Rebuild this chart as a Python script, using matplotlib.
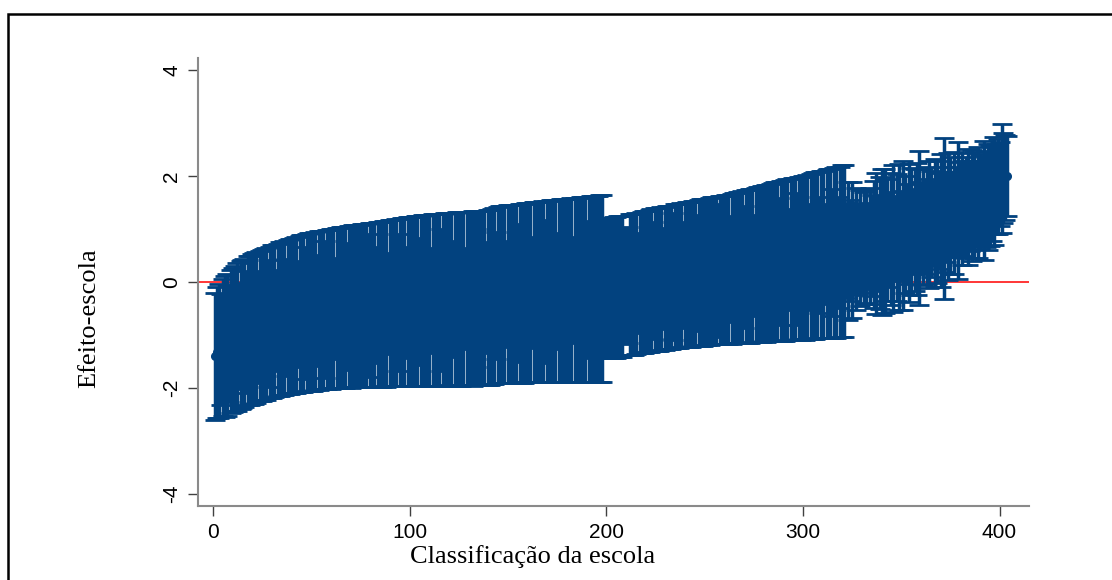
import numpy as np
import matplotlib
matplotlib.use("Agg")
import matplotlib.pyplot as plt
from matplotlib.patches import Rectangle

plt.rcParams['axes.unicode_minus'] = False

# school effect estimates, ordered by rank (schools 1..404)
est = [
    -1.40, -1.33, -1.30, -1.27, -1.24, -1.22, -1.19, -1.16, -1.13, -1.10, -1.07, -1.04, -1.02, -1.00, -0.98, -0.96, -0.94, -0.92, -0.91, -0.89,
    -0.88, -0.86, -0.85, -0.83, -0.82, -0.80, -0.79, -0.78, -0.76, -0.75, -0.74, -0.73, -0.72, -0.70, -0.69, -0.68, -0.67, -0.66, -0.65, -0.64,
    -0.63, -0.62, -0.61, -0.61, -0.60, -0.59, -0.58, -0.58, -0.57, -0.56, -0.56, -0.55, -0.54, -0.54, -0.53, -0.53, -0.52, -0.52, -0.51, -0.51,
    -0.50, -0.50, -0.49, -0.49, -0.48, -0.48, -0.48, -0.47, -0.47, -0.47, -0.46, -0.46, -0.46, -0.45, -0.45, -0.45, -0.44, -0.44, -0.44, -0.44,
    -0.43, -0.43, -0.43, -0.42, -0.42, -0.42, -0.41, -0.41, -0.41, -0.40, -0.40, -0.40, -0.39, -0.39, -0.39, -0.38, -0.38, -0.38, -0.37, -0.37,
    -0.37, -0.37, -0.36, -0.36, -0.36, -0.36, -0.35, -0.35, -0.35, -0.35, -0.35, -0.34, -0.34, -0.34, -0.34, -0.34, -0.33, -0.33, -0.33, -0.33,
    -0.33, -0.32, -0.32, -0.32, -0.32, -0.32, -0.31, -0.31, -0.31, -0.31, -0.31, -0.31, -0.30, -0.30, -0.30, -0.30, -0.30, -0.30, -0.29, -0.29,
    -0.29, -0.28, -0.27, -0.26, -0.25, -0.24, -0.24, -0.23, -0.23, -0.23, -0.22, -0.22, -0.22, -0.22, -0.21, -0.21, -0.21, -0.21, -0.20, -0.20,
    -0.20, -0.20, -0.19, -0.19, -0.19, -0.19, -0.19, -0.18, -0.18, -0.18, -0.18, -0.17, -0.17, -0.17, -0.17, -0.17, -0.16, -0.16, -0.16, -0.16,
    -0.16, -0.15, -0.15, -0.15, -0.15, -0.15, -0.14, -0.14, -0.14, -0.14, -0.14, -0.13, -0.13, -0.13, -0.13, -0.13, -0.12, -0.12, -0.12, -0.12,
    -0.12, -0.11, -0.11, -0.10, -0.10, -0.09, -0.09, -0.08, -0.08, -0.07, -0.06, -0.05, -0.05, -0.04, -0.03, -0.02, -0.02, -0.01, 0.00, 0.01,
    0.01, 0.02, 0.03, 0.03, 0.04, 0.05, 0.05, 0.06, 0.07, 0.07, 0.08, 0.09, 0.09, 0.10, 0.11, 0.11, 0.12, 0.13, 0.13, 0.14,
    0.14, 0.15, 0.15, 0.16, 0.16, 0.17, 0.17, 0.18, 0.18, 0.19, 0.19, 0.20, 0.20, 0.21, 0.21, 0.21, 0.22, 0.22, 0.23, 0.23,
    0.24, 0.24, 0.25, 0.25, 0.26, 0.26, 0.27, 0.27, 0.28, 0.28, 0.29, 0.29, 0.30, 0.31, 0.31, 0.32, 0.33, 0.33, 0.34, 0.35,
    0.35, 0.36, 0.36, 0.37, 0.38, 0.38, 0.39, 0.39, 0.40, 0.40, 0.41, 0.42, 0.42, 0.43, 0.43, 0.44, 0.44, 0.45, 0.45, 0.46,
    0.46, 0.47, 0.48, 0.48, 0.49, 0.50, 0.51, 0.51, 0.52, 0.52, 0.53, 0.53, 0.54, 0.54, 0.55, 0.55, 0.56, 0.56, 0.57, 0.58,
    0.58, 0.59, 0.59, 0.60, 0.60, 0.61, 0.62, 0.63, 0.64, 0.65, 0.65, 0.66, 0.67, 0.68, 0.69, 0.70, 0.72, 0.73, 0.74, 0.75,
    0.77, 0.78, 0.79, 0.80, 0.81, 0.82, 0.83, 0.84, 0.85, 0.87, 0.88, 0.90, 0.91, 0.93, 0.95, 0.96, 0.98, 1.00, 1.02, 1.03,
    1.04, 1.05, 1.07, 1.08, 1.09, 1.10, 1.12, 1.13, 1.15, 1.16, 1.18, 1.20, 1.22, 1.24, 1.26, 1.28, 1.30, 1.32, 1.35, 1.37,
    1.38, 1.39, 1.41, 1.42, 1.43, 1.45, 1.46, 1.48, 1.50, 1.52, 1.53, 1.54, 1.57, 1.60, 1.63, 1.67, 1.72, 1.76, 1.80, 1.85,
    1.95, 1.97, 1.98, 2.00,
]

# half-width of each confidence interval
half = [
    1.20, 1.24, 1.27, 1.05, 1.30, 1.33, 1.34, 1.10, 1.35, 1.36, 1.37, 1.39, 1.00, 1.39, 1.40, 1.40, 1.15, 1.41, 1.41, 1.41,
    1.42, 1.42, 1.05, 1.42, 1.42, 1.43, 1.43, 1.20, 1.43, 1.44, 1.44, 0.95, 1.44, 1.45, 1.45, 1.45, 1.10, 1.46, 1.46, 1.46,
    1.47, 1.47, 1.00, 1.47, 1.48, 1.48, 1.25, 1.48, 1.49, 1.49, 1.49, 1.49, 1.05, 1.50, 1.50, 1.50, 1.30, 1.50, 1.50, 1.51,
    1.51, 0.95, 1.51, 1.51, 1.52, 1.52, 1.52, 1.20, 1.52, 1.53, 1.53, 1.53, 1.53, 1.00, 1.53, 1.54, 1.54, 1.54, 1.35, 1.55,
    1.55, 1.55, 1.10, 1.56, 1.56, 1.56, 1.56, 1.57, 0.95, 1.57, 1.57, 1.57, 1.58, 1.30, 1.58, 1.58, 1.58, 1.05, 1.59, 1.59,
    1.59, 1.60, 1.60, 1.60, 1.20, 1.60, 1.61, 1.61, 1.61, 1.61, 1.00, 1.62, 1.62, 1.62, 1.62, 1.35, 1.62, 1.63, 1.63, 1.63,
    1.63, 1.10, 1.63, 1.64, 1.64, 1.64, 1.64, 0.95, 1.64, 1.64, 1.64, 1.65, 1.65, 1.30, 1.65, 1.65, 1.65, 1.65, 1.05, 1.65,
    1.65, 1.65, 1.66, 1.20, 1.66, 1.67, 1.67, 1.67, 1.00, 1.68, 1.68, 1.68, 1.68, 1.68, 1.30, 1.68, 1.69, 1.69, 1.69, 1.69,
    1.69, 1.05, 1.70, 1.70, 1.70, 1.70, 1.70, 1.71, 1.35, 1.71, 1.71, 1.71, 1.72, 1.72, 1.10, 1.72, 1.72, 1.73, 1.73, 1.73,
    1.73, 1.73, 1.00, 1.74, 1.74, 1.74, 1.74, 1.75, 1.75, 1.30, 1.75, 1.75, 1.75, 1.76, 1.76, 1.76, 1.76, 1.76, 1.32, 1.32,
    1.32, 1.32, 1.32, 1.33, 1.33, 1.33, 1.33, 1.33, 1.10, 1.05, 1.10, 1.33, 1.33, 1.33, 1.33, 0.95, 1.33, 1.34, 1.34, 1.34,
    1.34, 1.34, 1.34, 1.10, 1.35, 1.35, 1.35, 1.35, 0.95, 1.35, 1.35, 1.35, 1.35, 1.20, 1.36, 1.36, 1.36, 1.36, 1.00, 1.36,
    1.37, 1.37, 1.37, 1.37, 1.37, 1.10, 1.38, 1.38, 1.38, 1.38, 1.38, 0.95, 1.39, 1.39, 1.39, 1.39, 1.25, 1.40, 1.40, 1.40,
    1.41, 1.41, 1.00, 1.42, 1.42, 1.42, 1.43, 1.43, 1.43, 1.15, 1.44, 1.44, 1.45, 1.45, 0.95, 1.46, 1.46, 1.46, 1.47, 1.47,
    1.48, 1.48, 1.05, 1.49, 1.49, 1.50, 1.50, 1.20, 1.51, 1.51, 1.52, 1.52, 0.95, 1.52, 1.53, 1.53, 1.25, 1.53, 1.54, 1.54,
    1.55, 1.55, 1.00, 1.56, 1.56, 1.57, 1.57, 1.10, 1.58, 1.58, 0.95, 1.59, 1.59, 1.60, 1.20, 1.60, 1.61, 1.05, 1.61, 1.62,
    1.62, 0.90, 1.30, 0.95, 1.28, 0.85, 1.15, 0.80, 1.10, 0.85, 1.05, 1.08, 0.80, 1.10, 0.95, 1.20, 1.33, 0.90, 1.25, 1.38,
    0.85, 1.36, 1.15, 0.90, 1.25, 1.38, 0.80, 1.20, 1.37, 0.85, 1.40, 1.10, 0.95, 1.30, 1.20, 0.80, 1.15, 1.25, 1.45, 0.85,
    1.10, 0.90, 1.10, 1.20, 1.00, 0.80, 1.21, 1.15, 0.90, 1.25, 1.00, 1.52, 0.85, 1.20, 1.10, 0.80, 1.15, 0.85, 1.30, 0.90,
    1.05, 0.90, 0.95, 1.10, 0.85, 1.05, 1.00, 0.80, 1.05, 0.90, 0.85, 1.13, 0.90, 1.00, 0.95, 0.90, 1.02, 0.85, 0.90, 0.80,
    1.03, 0.85, 0.80, 0.75,
]

rank = np.arange(1, len(est) + 1)
navy = '#02427f'

fig = plt.figure(figsize=(11.12, 5.8), dpi=100)
ax = fig.add_axes([0.1781, 0.1276, 0.7473, 0.7724])

ax.axhline(0, color='#ff0000', lw=1.1, zorder=1)
ax.errorbar(rank, est, yerr=half, fmt='none', ecolor=navy,
            elinewidth=2.5, capsize=7, capthick=2.0, zorder=2)
ax.plot(rank, est, 'o', color=navy, ms=5.5, zorder=3)

ax.set_xlim(-7.6, 415)
ax.set_ylim(-4.23, 4.23)
ax.set_xticks([0, 100, 200, 300, 400])
ax.set_yticks([-4, -2, 0, 2, 4])

for s in ['top', 'right']:
    ax.spines[s].set_visible(False)
for s in ['left', 'bottom']:
    ax.spines[s].set_color('#8a8a8a')
    ax.spines[s].set_linewidth(1.5)

ax.tick_params(axis='both', length=7, width=1.0, color='#404040',
               labelsize=15, pad=5)
for lab in ax.get_yticklabels():
    lab.set_rotation(90)
    lab.set_va('center')
for lab in ax.get_xticklabels() + ax.get_yticklabels():
    lab.set_family('Liberation Sans')

ax.set_xlabel('Classificação da escola', family='Liberation Serif', fontsize=19)
ax.set_ylabel('Efeito-escola', family='Liberation Serif', fontsize=19)
ax.xaxis.set_label_coords((533 - 198) / 831, -0.088)
ax.yaxis.set_label_coords(-0.118, (506 - 318) / 448)

# black frame around the whole graph
fig.patches.append(Rectangle((8 / 1112, -0.1), 1.0, 1 - 14 / 580 + 0.1,
                             transform=fig.transFigure, fill=False,
                             edgecolor='black', lw=1.8, clip_on=False))

fig.savefig('out.png', dpi=100)
